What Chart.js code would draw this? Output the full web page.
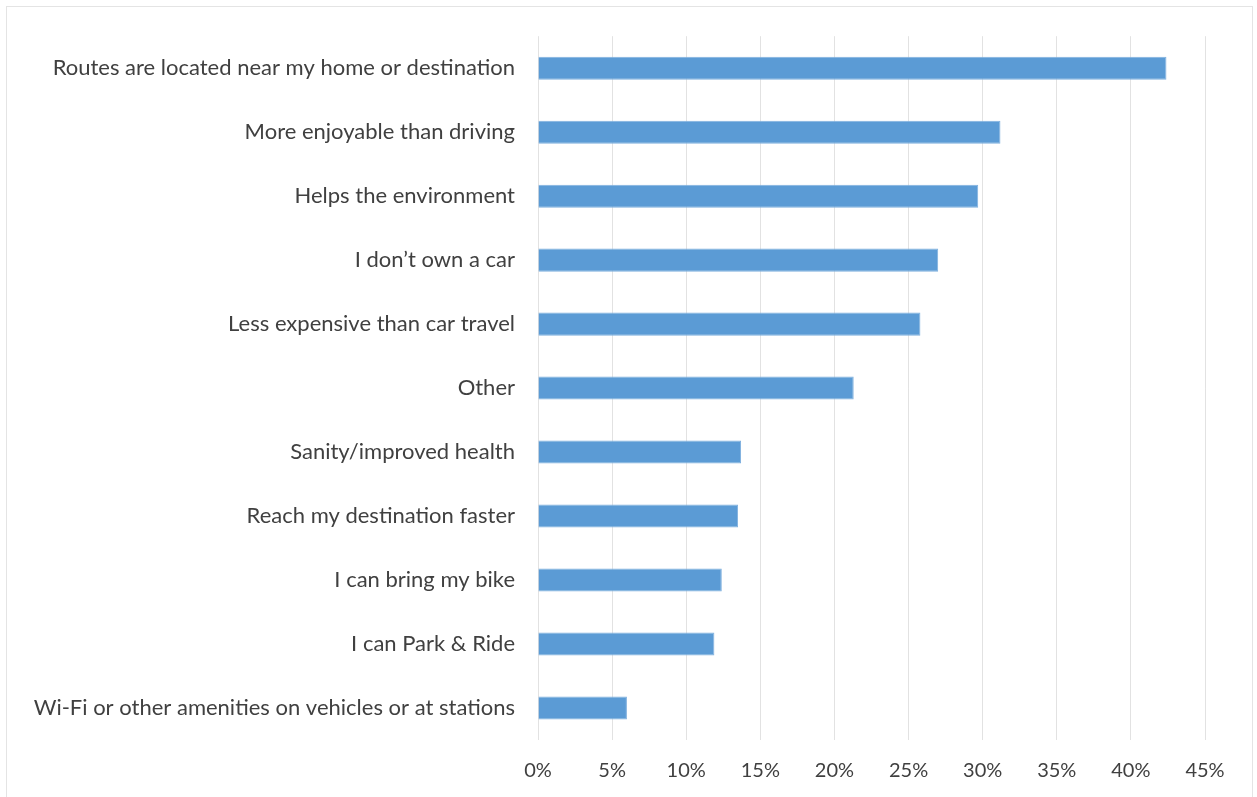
<!DOCTYPE html>
<html>
<head>
<meta charset="utf-8">
<script src="https://cdn.jsdelivr.net/npm/chart.js@4"></script>
<style>
  html, body { margin: 0; padding: 0; background: #ffffff; }
  #wrap { position: relative; width: 1257px; height: 797px; overflow: hidden; }
  #frame { position: absolute; left: 6px; top: 6px; width: 1247px; height: 800px;
           border: 1px solid #E4E4E4; box-sizing: border-box; pointer-events: none; }
  canvas { position: absolute; left: 0; top: 0; }
</style>
</head>
<body>
<div id="wrap">
  <canvas id="chart" width="1257" height="797"></canvas>
  <div id="frame"></div>
</div>
<script>
// Reasons for riding transit (share of respondents)
const reasons = [
  "Routes are located near my home or destination",
  "More enjoyable than driving",
  "Helps the environment",
  "I don\u2019t own a car",
  "Less expensive than car travel",
  "Other",
  "Sanity/improved health",
  "Reach my destination faster",
  "I can bring my bike",
  "I can Park & Ride",
  "Wi-Fi or other amenities on vehicles or at stations"
];
const shares = [42.4, 31.2, 29.7, 27.0, 25.8, 21.3, 13.7, 13.5, 12.4, 11.9, 6.0];
const axisMax = 45;
const axisStep = 5;

const FONT = "Lato, 'Open Sans', sans-serif";
const TEXT = "#404040";

new Chart(document.getElementById("chart"), {
  type: "bar",
  data: {
    labels: reasons,
    datasets: [{
      data: shares,
      backgroundColor: "#5B9BD5",
      borderColor: "#7FB0DE",
      borderWidth: 1,
      borderSkipped: "start",
      barPercentage: 0.36,
      categoryPercentage: 1.0
    }]
  },
  options: {
    indexAxis: "y",
    responsive: false,
    animation: false,
    layout: { padding: { top: 35, right: 52, bottom: 0, left: 0 } },
    plugins: { legend: { display: false }, tooltip: { enabled: false } },
    scales: {
      x: {
        min: 0,
        max: axisMax,
        afterFit: s => { s.height = 57; },
        grid: { color: "#E2E2E2", lineWidth: 1, drawTicks: false },
        border: { display: false },
        ticks: {
          stepSize: axisStep,
          padding: 19,
          color: TEXT,
          font: { family: FONT, size: 20 },
          callback: v => v + "%"
        }
      },
      y: {
        afterFit: s => { s.width = 538; },
        grid: { display: false, drawTicks: false },
        border: { display: false },
        ticks: {
          padding: 23,
          color: TEXT,
          font: { family: FONT, size: 22 },
          autoSkip: false
        }
      }
    }
  }
});
</script>
</body>
</html>
